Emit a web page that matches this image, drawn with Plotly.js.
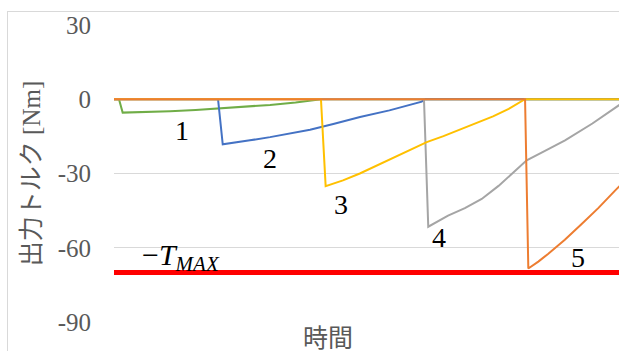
<!DOCTYPE html>
<html>
<head>
<meta charset="utf-8">
<script src="https://cdn.plot.ly/plotly-3.0.1.min.js"></script>
<style>
  html, body { margin: 0; padding: 0; overflow: hidden; background: #fff; }
  #frame { position: absolute; left: 7px; top: 11px; width: 640px; height: 360px;
           border-left: 1px solid #D9D9D9; border-top: 1px solid #D9D9D9; box-sizing: border-box; }
  #chart { position: absolute; left: 0; top: 0; width: 619px; height: 351px; }
</style>
</head>
<body>
<div id="frame"></div>
<div id="chart"></div>
<script>
// Time axis (arbitrary units) and torque values [Nm]
const t1 = [0, 0.049, 0.085, 0.3, 0.55, 0.8, 1.04, 1.3, 1.53, 1.78, 2.0, 2.03, 5.2];
const v1 = [0, 0, -5.4, -5.2, -4.8, -4.3, -3.7, -3.0, -2.3, -1.3, -0.2, 0, 0];

const t2 = [0, 1.02, 1.066, 1.2, 1.333, 1.53, 1.725, 1.922, 2.15, 2.412, 2.7, 2.9, 3.017, 3.04, 5.2];
const v2 = [0, 0, -18.2, -17.5, -16.6, -15.3, -13.9, -12.3, -10.0, -7.2, -4.5, -2.3, -1.0, 0, 0];

const t3 = [0, 2.029, 2.075, 2.245, 2.41, 2.575, 2.74, 2.902, 3.066, 3.23, 3.392, 3.55, 3.716, 3.87, 4.010, 4.029, 5.2];
const v3 = [0, 0, -35.1, -32.8, -30.0, -26.8, -23.8, -20.7, -17.3, -14.9, -12.3, -9.7, -6.9, -3.9, -0.7, 0, 0];

const t4 = [0, 3.039, 3.081, 3.275, 3.44, 3.605, 3.77, 3.931, 4.046, 4.23, 4.422, 4.69, 4.951, 5.06];
const v4 = [0, 0, -51.5, -47.0, -44.0, -40.3, -35.0, -28.8, -24.7, -20.8, -16.6, -9.8, -2.4, 0];

const t5 = [0, 4.03, 4.062, 4.16, 4.255, 4.42, 4.585, 4.75, 4.912, 5.16];
const v5 = [0, 0, -68.4, -65.6, -62.5, -56.8, -50.4, -43.9, -36.9, -27.0];

const tLimit = [0, 5.2];
const vLimit = [-70, -70];

const seriesNames = ["1", "2", "3", "4", "5"];
const yTicks = [30, 0, -30, -60, -90];
const yTickText = ["30", "0", "-30", "-60", "-90"];

const serif = "Liberation Serif, DejaVu Serif, serif";
const jp = "Liberation Serif, Noto Sans CJK JP, serif";

const traces = [
  {x: t1, y: v1, name: seriesNames[0], line: {color: "#70AD47", width: 2}},
  {x: t2, y: v2, name: seriesNames[1], line: {color: "#4472C4", width: 2}},
  {x: t4, y: v4, name: seriesNames[3], line: {color: "#A5A5A5", width: 2}},
  {x: t3, y: v3, name: seriesNames[2], line: {color: "#FFC000", width: 2}},
  {x: t5, y: v5, name: seriesNames[4], line: {color: "#ED7D31", width: 2}},
  {x: tLimit, y: vLimit, name: "-TMAX", line: {color: "#FF0000", width: 5}}
].map(tr => Object.assign({type: "scatter", mode: "lines", hoverinfo: "skip"}, tr));

const labelFont = {family: serif, size: 28, color: "#000000"};

const layout = {
  width: 619, height: 351,
  margin: {l: 114, r: 0, t: 25, b: 29},
  paper_bgcolor: "rgba(0,0,0,0)",
  plot_bgcolor: "rgba(0,0,0,0)",
  showlegend: false,
  xaxis: {range: [0, 4.951], showgrid: false, zeroline: false, showline: false,
          showticklabels: false, ticks: ""},
  yaxis: {range: [-90, 30], tickvals: yTicks, ticktext: yTickText,
          showgrid: true, gridcolor: "#D9D9D9", gridwidth: 1,
          zeroline: false, showline: false, ticks: "",
          ticklabelstandoff: 22,
          tickfont: {family: serif, size: 25, color: "#595959"}},
  annotations: [
    {xref: "paper", yref: "paper", x: -0.160, xshift: -17, y: 0.5, textangle: -90,
     text: "出力トルク [Nm]", showarrow: false,
     font: {family: jp, size: 25, color: "#595959"}},
    {xref: "paper", yref: "paper", x: 0.424, y: 0, yanchor: "top", yshift: -1,
     text: "時間", showarrow: false,
     font: {family: jp, size: 25, color: "#595959"}},
    {x: 0.667, y: -12.6, text: seriesNames[0], showarrow: false, font: labelFont},
    {x: 1.529, y: -23.9, text: seriesNames[1], showarrow: false, font: labelFont},
    {x: 2.225, y: -42.6, text: seriesNames[2], showarrow: false, font: labelFont},
    {x: 3.186, y: -55.7, text: seriesNames[3], showarrow: false, font: labelFont},
    {x: 4.549, y: -64.0, text: seriesNames[4], showarrow: false, font: labelFont},
    {x: 0.657, y: -63.6, text: "−<i>T</i><sub><i>MAX</i></sub>", showarrow: false,
     font: {family: serif, size: 30, color: "#000000"}}
  ]
};

Plotly.newPlot("chart", traces, layout, {displayModeBar: false, staticPlot: true});
</script>
</body>
</html>
